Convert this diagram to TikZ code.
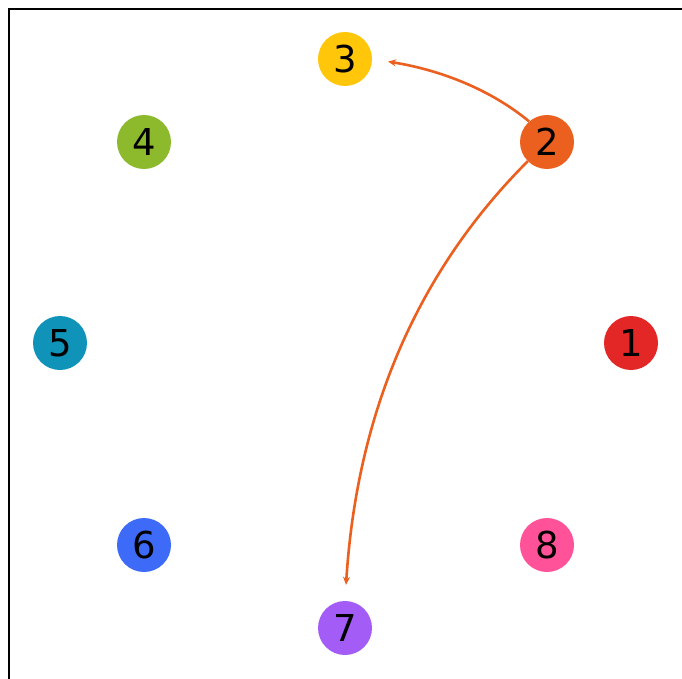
\documentclass[tikz,border=0pt]{standalone}
\usepackage{fontspec}
\setmainfont{DejaVu Sans}
\usetikzlibrary{arrows.meta}
\definecolor{c1}{HTML}{E32626}
\definecolor{c2}{HTML}{EB5F1F}
\definecolor{c3}{HTML}{FFC60A}
\definecolor{c4}{HTML}{8DB92D}
\definecolor{c5}{HTML}{0F93B8}
\definecolor{c6}{HTML}{3D6BF7}
\definecolor{c7}{HTML}{A45CF7}
\definecolor{c8}{HTML}{FF5299}
\tikzset{
  vert/.style={circle,fill=#1,draw=none,minimum size=54pt,inner sep=0pt,
    font=\fontsize{37}{37}\selectfont,text=black},
  edge/.style={draw=c2,line width=2.6pt,-{Stealth[length=8pt,width=7pt]}},
  frame/.style={draw=black,line width=2.2pt}
}
\begin{document}
\begin{tikzpicture}[x=1pt,y=-1pt]
\useasboundingbox (0,0) rectangle (682,679);
\fill[white] (0,0) rectangle (682,679);
\draw[frame] (9,679) -- (9,9) -- (682,9);
\node[vert=c1] (n1) at (631,343) {1};
\node[vert=c2] (n2) at (547,142) {2};
\node[vert=c3] (n3) at (345,59) {3};
\node[vert=c4] (n4) at (144,142) {4};
\node[vert=c5] (n5) at (60,343) {5};
\node[vert=c6] (n6) at (144,545) {6};
\node[vert=c7] (n7) at (345,628) {7};
\node[vert=c8] (n8) at (547,545) {8};
\draw[edge,shorten >=16pt] (n2.131) .. controls +(-35,-29) and +(74,12) .. (n3.east);
\draw[edge,shorten >=16pt] (n2.-135) .. controls +(-110,110) and +(12,-189) .. (n7.north);
\end{tikzpicture}
\end{document}
